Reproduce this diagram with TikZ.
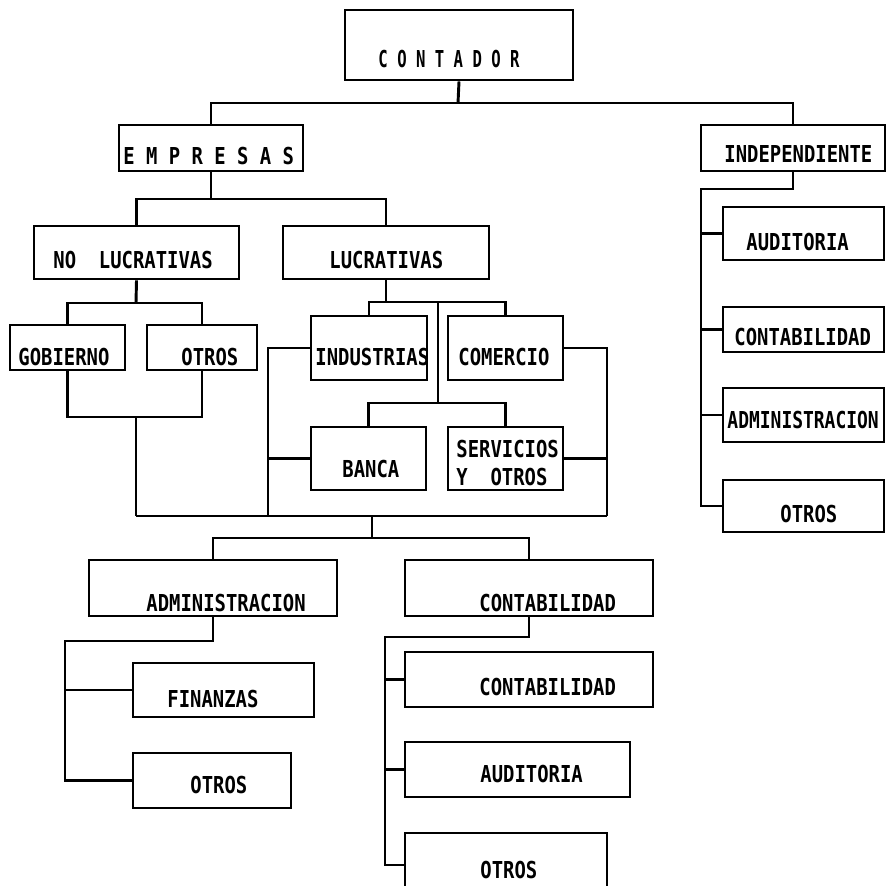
\documentclass[tikz,border=0pt]{standalone}
\usepackage{fontspec}
\newfontfamily\typfont[FakeStretch=0.81]{DejaVu Sans Mono}
\newfontfamily\typnarrow[FakeStretch=0.67]{DejaVu Sans Mono}
\newfontfamily\typtight[FakeStretch=0.77]{DejaVu Sans Mono}
\usetikzlibrary{fit}
\tikzset{
  every picture/.style={line width=2.5pt},
  box/.style={draw, inner sep=0pt, fit={#1}},
  lbl/.style={font=\typfont\bfseries\fontsize{19.9pt}{22pt}\selectfont, inner sep=0pt, anchor=base west},
  link/.style={draw, line width=2.5pt},
}

\begin{document}
\begin{tikzpicture}[x=0.3mm, y=-0.3mm]
  \fill[white] (0,0) rectangle (885,886);
  \useasboundingbox (0,0) rectangle (885,886);

  % top
  \node[box={(345,10) (573,80)}] (contador) {};
  \node[lbl, font=\typnarrow\bfseries\fontsize{19.9pt}{22pt}\selectfont] (contador-t) at (377,68) {C O N T A D O R};
  \node[box={(119,125) (303,171)}] (empresas) {};
  \node[lbl] (empresas-t) at (122,165) {E M P R E S A S};
  \node[box={(701,125) (885,171)}] (indep) {};
  \node[lbl] (indep-t) at (723,163) {INDEPENDIENTE};
  \coordinate (b1) at (458,103);
  \draw[link] (contador.south) -- (b1);
  \draw[link] (empresas.north) |- (b1) -| (indep.north);

  % empresas
  \node[box={(34,226) (239,279)}] (noluc) {};
  \node[lbl] (noluc-t) at (52,269) {NO\ \ LUCRATIVAS};
  \node[box={(283,226) (489,279)}] (luc) {};
  \node[lbl] (luc-t) at (328,269) {LUCRATIVAS};
  \coordinate (b2) at (211,199);
  \draw[link] (empresas.south) -- (b2);
  \draw[link] (noluc.north) |- (b2) -| (luc.north);

  % no lucrativas
  \node[box={(10,325) (125,370)}] (gob) {};
  \node[lbl] (gob-t) at (17,365) {GOBIERNO};
  \node[box={(147,325) (257,370)}] (otrosa) {};
  \node[lbl] (otrosa-t) at (180,365) {OTROS};
  \coordinate (b3) at (136,303);
  \coordinate (b4) at (136,417);
  \coordinate (b5) at (136,516);
  \draw[link] (noluc.south) -- (b3);
  \draw[link] (gob.north) |- (b3) -| (otrosa.north);
  \draw[link] (gob.south) |- (b4) -| (otrosa.south);
  \draw[link] (b4) -- (b5);

  % lucrativas
  \node[box={(311,316) (427,380)}] (ind) {};
  \node[lbl] (ind-t) at (314,365) {INDUSTRIAS};
  \node[box={(448,316) (563,380)}] (com) {};
  \node[lbl] (com-t) at (457,365) {COMERCIO};
  \node[box={(311,427) (426,490)}] (banca) {};
  \node[lbl] (banca-t) at (341,477) {BANCA};
  \node[box={(448,427) (563,490)}] (serv) {};
  \node[lbl] (serv-t) at (455,457) {SERVICIOS};
  \node[lbl] (serv-t2) at (455,485) {Y\ \ OTROS};
  \coordinate (b6) at (386,302);
  \coordinate (b7) at (438,302);
  \coordinate (b8) at (438,403);
  \coordinate (b9) at (268,516);
  \coordinate (b10) at (607,516);
  \draw[link] (luc.south) -- (b6);
  \draw[link] (ind.north) |- (b6) -| (com.north);
  \draw[link] (b7) -- (b8);
  \draw[link] (banca.north) |- (b8) -| (serv.north);
  \draw[link] (ind.west) -| (b9);
  \draw[link] (banca.west) -- (banca.west -| b9);
  \draw[link] (com.east) -| (b10);
  \draw[link] (serv.east) -- (serv.east -| b10);
  \draw[link] (b5) -- (b10);

  % areas
  \node[box={(89,560) (337,616)}] (adm) {};
  \node[lbl] (adm-t) at (145,611) {ADMINISTRACION};
  \node[box={(405,560) (653,616)}] (cont) {};
  \node[lbl] (cont-t) at (478,611) {CONTABILIDAD};
  \coordinate (b11) at (372,516);
  \coordinate (b12) at (372,538);
  \draw[link] (b11) -- (b12);
  \draw[link] (adm.north) |- (b12) -| (cont.north);

  % administracion
  \node[box={(133,663) (314,717)}] (fin) {};
  \node[lbl] (fin-t) at (166,707) {FINANZAS};
  \node[box={(133,753) (291,808)}] (otrosb) {};
  \node[lbl] (otrosb-t) at (189,793) {OTROS};
  \coordinate (b13) at (65,641);
  \draw[link] (adm.south) |- (b13) |- (otrosb.west);
  \draw[link] (fin.west) -- (fin.west -| b13);

  % contabilidad
  \node[box={(405,652) (653,707)}] (contb) {};
  \node[lbl] (contb-t) at (478,695) {CONTABILIDAD};
  \node[box={(405,742) (630,797)}] (aud) {};
  \node[lbl] (aud-t) at (479,782) {AUDITORIA};
  \node[box={(405,833) (607,897)}] (otrosc) {};
  \node[lbl] (otrosc-t) at (479,878) {OTROS};
  \coordinate (b14) at (385,637);
  \draw[link] (cont.south) |- (b14) |- (otrosc.west);
  \draw[link] (contb.west) -- (contb.west -| b14);
  \draw[link] (aud.west) -- (aud.west -| b14);

  % independiente
  \node[box={(723,207) (884,260)}] (audi) {};
  \node[lbl] (audi-t) at (745,250) {AUDITORIA};
  \node[box={(723,307) (884,352)}] (conti) {};
  \node[lbl] (conti-t) at (733,345) {CONTABILIDAD};
  \node[box={(723,388) (884,442)}] (admi) {};
  \node[lbl, font=\typtight\bfseries\fontsize{19.9pt}{22pt}\selectfont] (admi-t) at (726,428) {ADMINISTRACION};
  \node[box={(723,480) (884,532)}] (otrosi) {};
  \node[lbl] (otrosi-t) at (779,522) {OTROS};
  \coordinate (b15) at (701,189);
  \draw[link] (indep.south) |- (b15) |- (otrosi.west);
  \draw[link] (audi.west) -- (audi.west -| b15);
  \draw[link] (conti.west) -- (conti.west -| b15);
  \draw[link] (admi.west) -- (admi.west -| b15);
\end{tikzpicture}
\end{document}
